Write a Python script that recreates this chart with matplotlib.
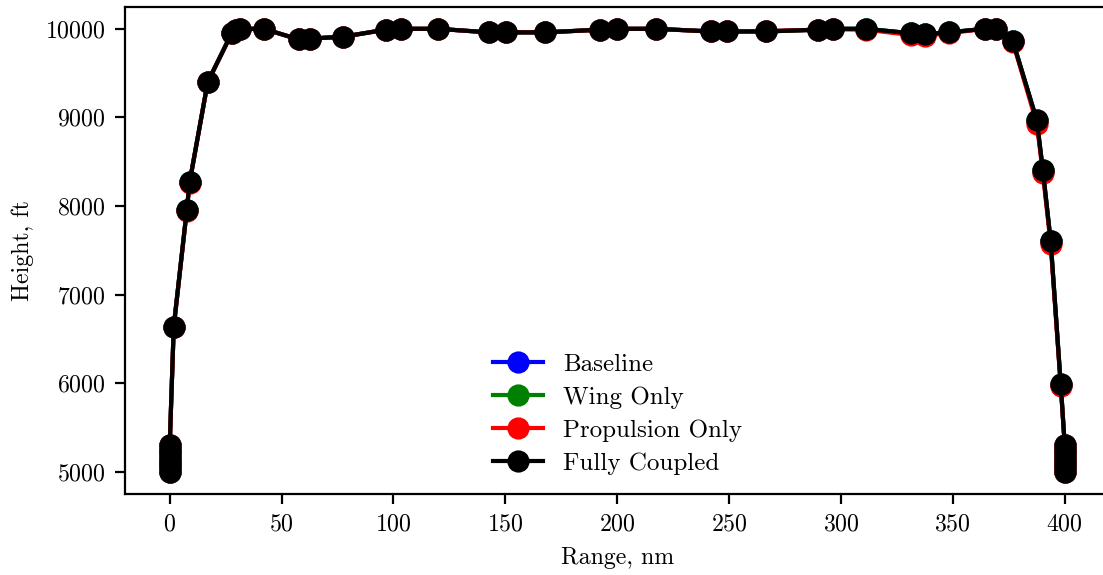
import matplotlib
matplotlib.use("Agg")
import matplotlib.pyplot as plt

plt.rcParams['font.family'] = 'serif'
plt.rcParams['font.serif'] = ['cmr10', 'DejaVu Serif']
plt.rcParams['axes.formatter.use_mathtext'] = True
plt.rcParams['font.size'] = 8.6

# mission range, nm (same stations for every case)
range_nm = [0, 0, 0, 0, 0, 0, 0,
            1.8, 7.6, 8.9, 17.0, 27.7, 29.5, 31.3, 42.0, 57.7, 62.6, 77.3,
            96.5, 103.2, 119.8, 142.6, 150.2, 167.6, 192.2, 199.8, 217.2,
            241.8, 248.9, 266.4, 289.6, 296.3, 311.1, 331.2, 337.4, 348.2,
            364.2, 369.2, 376.8, 387.5, 390.2, 393.7, 398.2,
            400, 400, 400, 400, 400, 400, 400]

height_baseline = [5000, 5050, 5100, 5150, 5200, 5250, 5300,
                   6640, 7950, 8270, 9400, 9950, 9990, 10000, 10000, 9880, 9890, 9910,
                   9990, 10000, 10000, 9960, 9960, 9960, 9990, 10000, 10000,
                   9972, 9972, 9972, 9990, 10000, 10000, 9950, 9942, 9960,
                   10000, 10000, 9860, 8965, 8400, 7600, 5985,
                   5300, 5250, 5200, 5150, 5100, 5050, 5000]

height_wing = [5000, 5050, 5100, 5150, 5200, 5250, 5300,
               6640, 7950, 8270, 9400, 9950, 9990, 10000, 10000, 9880, 9890, 9910,
               9990, 10000, 10000, 9960, 9960, 9960, 9990, 10000, 10000,
               9970, 9970, 9970, 9990, 10000, 10000, 9950, 9940, 9960,
               10000, 10000, 9860, 8970, 8410, 7610, 5990,
               5300, 5250, 5200, 5150, 5100, 5050, 5000]

height_prop = [5000, 5050, 5100, 5150, 5200, 5250, 5300,
               6630, 7945, 8265, 9400, 9950, 9990, 10000, 10000, 9880, 9890, 9910,
               9990, 10000, 10000, 9960, 9960, 9960, 9990, 10000, 10000,
               9970, 9970, 9975, 9990, 9995, 9990, 9930, 9920, 9950,
               10000, 10000, 9850, 8930, 8370, 7570, 5970,
               5300, 5250, 5200, 5150, 5100, 5050, 5000]

height_coupled = [5000, 5050, 5100, 5150, 5200, 5250, 5300,
                  6640, 7950, 8270, 9400, 9950, 9990, 10000, 10000, 9880, 9890, 9910,
                  9990, 10000, 10000, 9960, 9960, 9960, 9990, 10000, 10000,
                  9970, 9970, 9970, 9990, 10000, 10000, 9950, 9940, 9960,
                  10000, 10000, 9860, 8970, 8410, 7610, 5990,
                  5300, 5250, 5200, 5150, 5100, 5050, 5000]

labels = ['Baseline', 'Wing Only', 'Propulsion Only', 'Fully Coupled']
colors = ['blue', 'green', 'red', 'black']
series = [height_baseline, height_wing, height_prop, height_coupled]

fig = plt.figure(figsize=(5.515, 2.875), dpi=200)
ax = fig.add_axes([0.1133, 0.1409, 0.8926, 0.8475])

for h, c, lab in zip(series, colors, labels):
    ax.plot(range_nm, h, '-o', color=c, label=lab, lw=1.5, ms=7)

ax.set_xlim(-20, 420)
ax.set_ylim(4750, 10250)
ax.set_xticks([0, 50, 100, 150, 200, 250, 300, 350, 400])
ax.set_yticks([5000, 6000, 7000, 8000, 9000, 10000])
ax.set_xlabel('Range, nm')
ax.set_ylabel('Height, ft')
ax.legend(loc='lower center', frameon=False, fontsize=9, labelspacing=0.42,
          borderaxespad=0.35)

fig.savefig('out.png', dpi=200)
